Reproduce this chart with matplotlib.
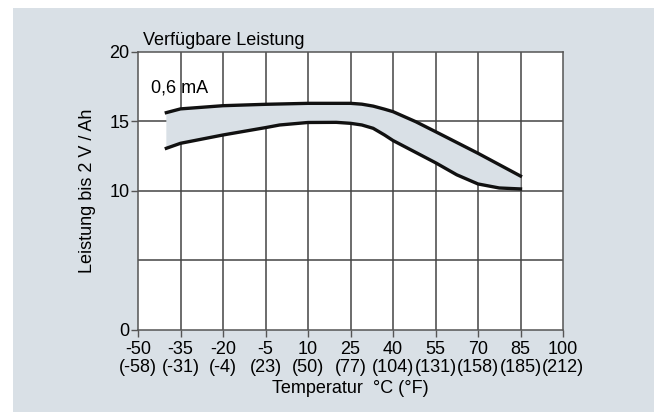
import matplotlib
matplotlib.use("Agg")
import matplotlib.pyplot as plt
from matplotlib.patches import Rectangle

plt.rcParams['font.family'] = ['Liberation Sans', 'DejaVu Sans']

# temperature in degC and capacity band limits (Ah down to 2 V)
temp_up = [-40, -35, -20, -5, 10, 25, 29, 33, 37, 40, 48, 55, 70, 85]
upper = [15.63, 15.9, 16.13, 16.23, 16.3, 16.3, 16.24, 16.1, 15.88, 15.7, 14.98, 14.26, 12.7, 11.06]
temp_lo = [-40, -35, -20, -5, 0, 10, 20, 25, 29, 33, 37, 40, 55, 62.5, 70, 77.5, 85]
lower = [13.06, 13.42, 14.02, 14.55, 14.74, 14.92, 14.93, 14.86, 14.74, 14.5, 14.02, 13.62, 12.02, 11.15, 10.49, 10.2, 10.13]

x_ticks = [-50, -35, -20, -5, 10, 25, 40, 55, 70, 85, 100]
x_labels_f = ["(-58)", "(-31)", "(-4)", "(23)", "(50)", "(77)", "(104)", "(131)", "(158)", "(185)", "(212)"]
y_ticks = [0, 10, 15, 20]
y_grid = [5, 10, 15]

panel = "#d9e0e6"
fs = 13

fig = plt.figure(figsize=(6.54, 4.12), dpi=100)
fig.patch.set_facecolor("white")
fig.add_artist(Rectangle((13 / 654, 0), 1 - 13 / 654, 404 / 412,
                         transform=fig.transFigure, facecolor=panel,
                         edgecolor="none", zorder=-10))

ax = fig.add_axes([138 / 654, 82.5 / 412, 425 / 654, 277.5 / 412])
ax.set_facecolor("white")
ax.set_xlim(-50, 100)
ax.set_ylim(0, 20)

for xv in x_ticks[1:-1]:
    ax.axvline(xv, color="#444444", lw=1.1, zorder=1)
for yv in y_grid:
    ax.axhline(yv, color="#444444", lw=1.1, zorder=1)

# band between the two limits
band_x = temp_up + temp_lo[::-1]
band_y = upper + lower[::-1]
ax.fill(band_x, band_y, color=panel, zorder=2, lw=0)
ax.plot(temp_up, upper, color="#111111", lw=2.4, zorder=3, solid_joinstyle="round")
ax.plot(temp_lo, lower, color="#111111", lw=2.4, zorder=3, solid_joinstyle="round")

ax.set_xticks(x_ticks)
ax.set_xticklabels([f"{c}\n{f}" for c, f in zip(x_ticks, x_labels_f)],
                   fontsize=fs, linespacing=1.1)
ax.set_yticks(y_ticks)
ax.set_yticklabels([str(v) for v in y_ticks], fontsize=fs)
ax.tick_params(direction="out", length=5, width=1, color="#555555")
ax.tick_params(axis="x", pad=3)
ax.tick_params(axis="y", pad=1)

for s in ax.spines.values():
    s.set_color("#555555")
    s.set_linewidth(1.1)

ax.set_ylabel("Leistung bis 2 V / Ah", fontsize=fs, labelpad=10)
ax.set_xlabel("Temperatur  °C (°F)", fontsize=fs, labelpad=3)

ax.text(0.012, 1.01, "Verfügbare Leistung", transform=ax.transAxes,
        fontsize=fs, ha="left", va="bottom")
ax.text(-45.5, 17.4, "0,6 mA", fontsize=fs, ha="left", va="center", zorder=4)

fig.savefig("out.png", dpi=100)
